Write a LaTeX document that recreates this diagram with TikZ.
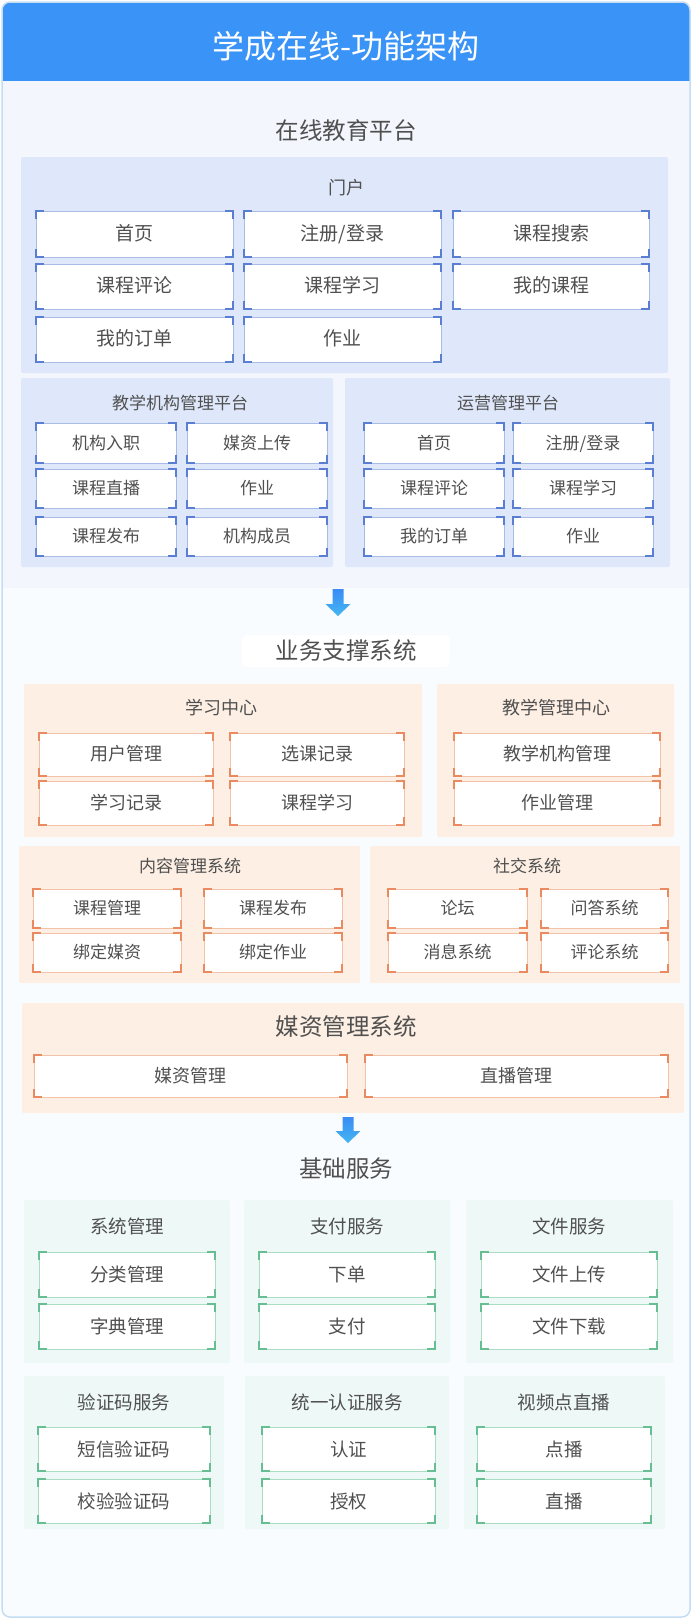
\documentclass[tikz,border=0pt]{standalone}
\usepackage{fontspec}
\setmainfont{Noto Sans CJK SC}
\definecolor{hdr}{HTML}{3A93F7}
\definecolor{frameb}{HTML}{C4DDF2}
\definecolor{topbg}{HTML}{F3F6FD}
\definecolor{lowbg}{HTML}{F9FCFF}
\definecolor{bfill}{HTML}{DFE8FA}
\definecolor{bbord}{HTML}{A8BCE6}
\definecolor{bcorn}{HTML}{5A7ED2}
\definecolor{ofill}{HTML}{FDEFE4}
\definecolor{obord}{HTML}{F2C3A8}
\definecolor{ocorn}{HTML}{EA8A60}
\definecolor{gfill}{HTML}{EEF8F6}
\definecolor{gbord}{HTML}{AADDC4}
\definecolor{gcorn}{HTML}{66BE92}
\definecolor{txt}{HTML}{505050}
\definecolor{arrtop}{HTML}{3A8CF4}
\definecolor{arrbot}{HTML}{44B6F2}
\tikzset{
  inbox/.style={fill=white, line width=1pt, inner sep=0pt, outer sep=0pt, text=txt},
  txshift/.style={text height=1.4em, text depth=0.12em},
  grpbox/.style={inner sep=0pt, outer sep=0pt, rounded corners=2pt},
  gtitle/.style={text=txt, inner sep=1pt},
  stitle/.style={text=txt, font=\fontsize{23.5}{24}\selectfont, inner sep=2pt},
}
% box with corner brackets: name, x1, y1, x2, y2, text  (theme from \bxb, \bxc, \bxfs)
\newcommand\bx[6]{%
  \pgfmathsetmacro\bxcx{(#2+#4)/2}%
  \pgfmathsetmacro\bxcy{(#3+#5)/2}%
  \pgfmathsetmacro\bxw{#4-#2}%
  \pgfmathsetmacro\bxh{#5-#3}%
  \node[inbox, txshift, draw=\bxb, minimum width=\bxw pt, minimum height=\bxh pt,
        font=\fontsize{\bxfs}{\bxfs}\selectfont] (#1) at (\bxcx,\bxcy) {#6};
  \draw[draw=\bxc, line width=2pt]
    ([yshift=-8pt]#1.north west) -- (#1.north west) -- ([xshift=8pt]#1.north west)
    ([yshift=-8pt]#1.north east) -- (#1.north east) -- ([xshift=-8pt]#1.north east)
    ([yshift=8pt]#1.south west) -- (#1.south west) -- ([xshift=8pt]#1.south west)
    ([yshift=8pt]#1.south east) -- (#1.south east) -- ([xshift=-8pt]#1.south east);
}
% group box: name, x1, y1, x2, y2, fill
\newcommand\grp[6]{%
  \pgfmathsetmacro\bxcx{(#2+#4)/2}%
  \pgfmathsetmacro\bxcy{(#3+#5)/2}%
  \pgfmathsetmacro\bxw{#4-#2}%
  \pgfmathsetmacro\bxh{#5-#3}%
  \node[grpbox, fill=#6, minimum width=\bxw pt, minimum height=\bxh pt] (#1) at (\bxcx,\bxcy) {};
}
% down arrow: center x, top y, bottom y
\newcommand\dnarrow[3]{%
  \shade[top color=arrtop, bottom color=arrbot]
    (#1-5.5,#2) -- (#1+5.5,#2) -- (#1+5.5,#3-12) -- (#1+12.5,#3-12) -- (#1,#3)
    -- (#1-12.5,#3-12) -- (#1-5.5,#3-12) -- cycle;
}
\begin{document}
\begin{tikzpicture}[x=1pt,y=-1pt]
\useasboundingbox (0,0) rectangle (693,1620);
% frame and backgrounds
\begin{scope}
  \clip[rounded corners=8pt] (2,2) rectangle (690,1617);
  \fill[lowbg] (2,2) rectangle (690,1617);
  \fill[hdr] (2,2) rectangle (690,81);
  \fill[topbg] (2,81) rectangle (690,588);
\end{scope}
\draw[frameb, line width=1.5pt, rounded corners=8pt] (2,2) rectangle (690,1617);
\node[text=white, font=\fontsize{32}{34}\selectfont] (title) at (346,46) {学成在线-功能架构};

% ================= 在线教育平台 =================
\node[stitle] (sec1) at (346,131) {在线教育平台};
\grp{portal}{21}{157}{668}{373}{bfill}
\node[gtitle, font=\fontsize{18}{18}\selectfont] (portalT) at (346,188) {门户};
\def\bxb{bbord}\def\bxc{bcorn}\def\bxfs{19}
\bx{p1}{36}{211}{233}{257}{首页}
\bx{p2}{244}{211}{441}{257}{注册/登录}
\bx{p3}{453}{211}{649}{257}{课程搜索}
\bx{p4}{36}{264}{233}{309}{课程评论}
\bx{p5}{244}{264}{441}{309}{课程学习}
\bx{p6}{453}{264}{649}{309}{我的课程}
\bx{p7}{36}{317}{233}{362}{我的订单}
\bx{p8}{244}{317}{441}{362}{作业}

\grp{org}{21}{378}{333}{567}{bfill}
\node[gtitle, font=\fontsize{17}{17}\selectfont] (orgT) at (180,403) {教学机构管理平台};
\def\bxfs{17}
\bx{l1}{36}{423}{176}{463}{机构入职}
\bx{l2}{187}{423}{327}{463}{媒资上传}
\bx{l3}{36}{469}{176}{508}{课程直播}
\bx{l4}{187}{469}{327}{508}{作业}
\bx{l5}{36}{517}{176}{556}{课程发布}
\bx{l6}{187}{517}{327}{556}{机构成员}

\grp{ops}{345}{378}{670}{567}{bfill}
\node[gtitle, font=\fontsize{17}{17}\selectfont] (opsT) at (508,403) {运营管理平台};
\bx{r1}{364}{423}{504}{463}{首页}
\bx{r2}{513}{423}{653}{463}{注册/登录}
\bx{r3}{364}{469}{504}{508}{课程评论}
\bx{r4}{513}{469}{653}{508}{课程学习}
\bx{r5}{364}{517}{504}{556}{我的订单}
\bx{r6}{513}{517}{653}{556}{作业}

\dnarrow{338}{589}{616}

% ================= 业务支撑系统 =================
\node[stitle, fill=white, rounded corners=6pt, minimum width=208pt, minimum height=32pt] (sec2) at (346,651) {业务支撑系统};
\def\bxb{obord}\def\bxc{ocorn}\def\bxfs{18}
\grp{study}{24}{684}{422}{837}{ofill}
\node[gtitle, font=\fontsize{18}{18}\selectfont] (studyT) at (221,708) {学习中心};
\bx{s1}{39}{733}{213}{776}{用户管理}
\bx{s2}{230}{733}{404}{776}{选课记录}
\bx{s3}{39}{781}{213}{825}{学习记录}
\bx{s4}{230}{781}{404}{825}{课程学习}

\grp{teach}{437}{684}{674}{837}{ofill}
\node[gtitle, font=\fontsize{18}{18}\selectfont] (teachT) at (556,708) {教学管理中心};
\bx{t1}{454}{733}{660}{776}{教学机构管理}
\bx{t2}{454}{781}{660}{825}{作业管理}

\def\bxfs{17}
\grp{content}{19}{846}{360}{983}{ofill}
\node[gtitle, font=\fontsize{17}{17}\selectfont] (contentT) at (190,866) {内容管理系统};
\bx{c1}{33}{889}{181}{928}{课程管理}
\bx{c2}{204}{889}{342}{928}{课程发布}
\bx{c3}{33}{933}{181}{972}{绑定媒资}
\bx{c4}{204}{933}{342}{972}{绑定作业}

\grp{social}{370}{846}{680}{983}{ofill}
\node[gtitle, font=\fontsize{17}{17}\selectfont] (socialT) at (527,866) {社交系统};
\bx{x1}{388}{889}{527}{928}{论坛}
\bx{x2}{541}{889}{668}{928}{问答系统}
\bx{x3}{388}{933}{527}{972}{消息系统}
\bx{x4}{541}{933}{668}{972}{评论系统}

\grp{media}{22}{1003}{684}{1113}{ofill}
\node[stitle] (mediaT) at (346,1027) {媒资管理系统};
\def\bxfs{18}
\bx{m1}{34}{1055}{347}{1097}{媒资管理}
\bx{m2}{365}{1055}{668}{1097}{直播管理}

\dnarrow{348}{1117}{1143}

% ================= 基础服务 =================
\tikzset{txshift/.style={}}
\node[stitle] (sec3) at (346,1169) {基础服务};
\def\bxb{gbord}\def\bxc{gcorn}\def\bxfs{18.5}
\grp{sys}{24}{1200}{230}{1363}{gfill}
\node[gtitle, font=\fontsize{18.5}{19}\selectfont] (sysT) at (127,1226) {系统管理};
\bx{g1}{39}{1252}{215}{1297}{分类管理}
\bx{g2}{39}{1304}{215}{1349}{字典管理}

\grp{pay}{244}{1200}{450}{1363}{gfill}
\node[gtitle, font=\fontsize{18.5}{19}\selectfont] (payT) at (347,1226) {支付服务};
\bx{g3}{259}{1252}{435}{1297}{下单}
\bx{g4}{259}{1304}{435}{1349}{支付}

\grp{file}{466}{1200}{673}{1363}{gfill}
\node[gtitle, font=\fontsize{18.5}{19}\selectfont] (fileT) at (569,1226) {文件服务};
\bx{g5}{481}{1252}{657}{1297}{文件上传}
\bx{g6}{481}{1304}{657}{1349}{文件下载}

\grp{code}{24}{1376}{224}{1529}{gfill}
\node[gtitle, font=\fontsize{18.5}{19}\selectfont] (codeT) at (124,1402) {验证码服务};
\bx{h1}{38}{1427}{210}{1471}{短信验证码}
\bx{h2}{38}{1479}{210}{1523}{校验验证码}

\grp{auth}{245}{1376}{449}{1529}{gfill}
\node[gtitle, font=\fontsize{18.5}{19}\selectfont] (authT) at (347,1402) {统一认证服务};
\bx{h3}{262}{1427}{435}{1471}{认证}
\bx{h4}{262}{1479}{435}{1523}{授权}

\grp{video}{464}{1376}{665}{1529}{gfill}
\node[gtitle, font=\fontsize{18.5}{19}\selectfont] (videoT) at (564,1402) {视频点直播};
\bx{h5}{477}{1427}{651}{1471}{点播}
\bx{h6}{477}{1479}{651}{1523}{直播}
\end{tikzpicture}
\end{document}
